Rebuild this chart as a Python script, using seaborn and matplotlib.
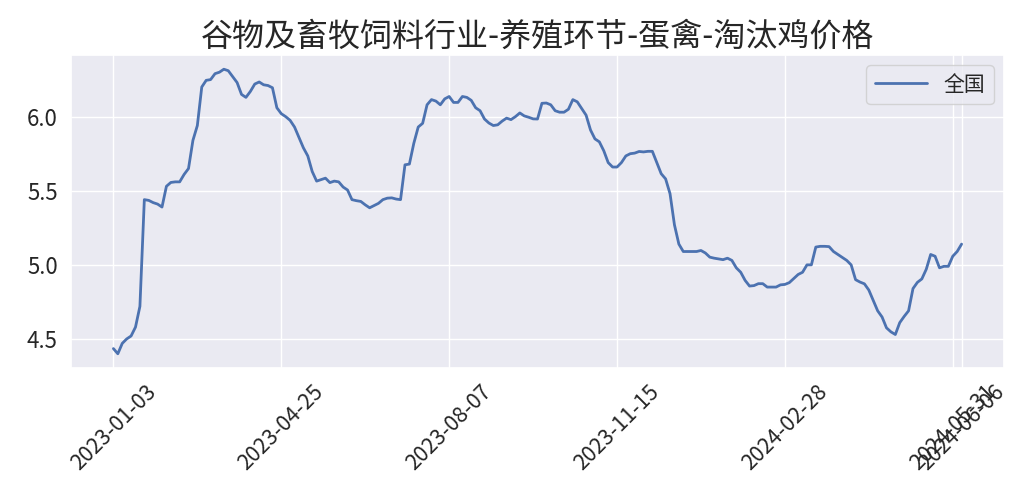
import matplotlib
matplotlib.use("Agg")
import matplotlib.pyplot as plt
import pandas as pd
import seaborn as sns

# ── Data ──────────────────────────────────────────────────────────────────────
TITLE = "谷物及畜牧饲料行业-养殖环节-蛋禽-淘汰鸡价格"
SERIES_NAME = "全国"
TICK_LABELS = ["2023-01-03", "2023-04-25", "2023-08-07", "2023-11-15",
               "2024-02-28", "2024-05-31", "2024-06-06"]
TICK_EVERY = 38   # rows between the regular date ticks

PRICE = [
    4.435, 4.40, 4.47, 4.50, 4.52, 4.58, 4.72, 5.44, 5.435, 5.42,
    5.41, 5.39, 5.53, 5.556, 5.56, 5.56, 5.61, 5.65, 5.84, 5.94,
    6.20, 6.245, 6.25, 6.29, 6.30, 6.32, 6.31, 6.27, 6.23, 6.15,
    6.13, 6.17, 6.22, 6.234, 6.215, 6.21, 6.195, 6.06, 6.02,
    6.00, 5.975, 5.93, 5.86, 5.79, 5.735, 5.63, 5.565, 5.575, 5.585,
    5.555, 5.565, 5.56, 5.525, 5.505, 5.44, 5.433, 5.428, 5.405, 5.385,
    5.40, 5.415, 5.44, 5.45, 5.452, 5.444, 5.44, 5.675, 5.68, 5.82,
    5.93, 5.955, 6.08, 6.115, 6.105, 6.08, 6.12, 6.136,
    6.096, 6.096, 6.136, 6.13, 6.11, 6.06, 6.04, 5.984, 5.957, 5.94,
    5.945, 5.97, 5.99, 5.98, 6.00, 6.025, 6.005, 5.996, 5.985, 5.984,
    6.09, 6.092, 6.08, 6.04, 6.03, 6.03, 6.05, 6.115, 6.10, 6.055,
    6.01, 5.91, 5.85, 5.83, 5.77, 5.69, 5.66, 5.66,
    5.69, 5.735, 5.75, 5.754, 5.765, 5.762, 5.766, 5.766, 5.69, 5.615,
    5.58, 5.48, 5.27, 5.14, 5.09, 5.09, 5.09, 5.09, 5.097, 5.08,
    5.052, 5.045, 5.04, 5.035, 5.045, 5.03, 4.98, 4.95, 4.895, 4.857,
    4.86, 4.873, 4.873, 4.85, 4.85, 4.85, 4.865, 4.868,
    4.88, 4.908, 4.935, 4.95, 5.00, 5.00, 5.12, 5.125, 5.125, 5.123,
    5.09, 5.07, 5.05, 5.03, 5.00, 4.90, 4.884, 4.872, 4.83, 4.76,
    4.69, 4.648, 4.575, 4.548, 4.53, 4.61, 4.652, 4.69, 4.84, 4.882,
    4.905, 4.97, 5.07, 5.058, 4.98, 4.99, 4.99, 5.058, 5.09, 5.14,
]

df = pd.DataFrame({"row": range(len(PRICE)), "price": PRICE})

# ── Style ─────────────────────────────────────────────────────────────────────
sns.set_theme(style="darkgrid")
plt.rcParams["font.family"] = ["Noto Sans CJK SC", "DejaVu Sans"]
plt.rcParams["axes.unicode_minus"] = False

# ── Plot ──────────────────────────────────────────────────────────────────────
fig, ax = plt.subplots(figsize=(10.28, 5.0), dpi=100)
sns.lineplot(data=df, x="row", y="price", ax=ax, label=SERIES_NAME,
             color="#4C72B0", linewidth=2)

tick_pos = list(range(0, TICK_EVERY * 5 + 1, TICK_EVERY)) + [len(PRICE) - 1]
ax.set_xticks(tick_pos)
ax.set_xticklabels(TICK_LABELS, rotation=45, fontsize=15.5)
ax.tick_params(axis="y", labelsize=16)
ax.set_xlabel("")
ax.set_ylabel("")
ax.set_title(TITLE, fontsize=23, pad=7)
ax.legend(loc="upper right", fontsize=15, handlelength=2.5)

fig.subplots_adjust(left=71 / 1028, right=1004 / 1028,
                    top=1 - 55 / 500, bottom=1 - 368 / 500)
fig.savefig("out.png", dpi=100)
plt.close(fig)
